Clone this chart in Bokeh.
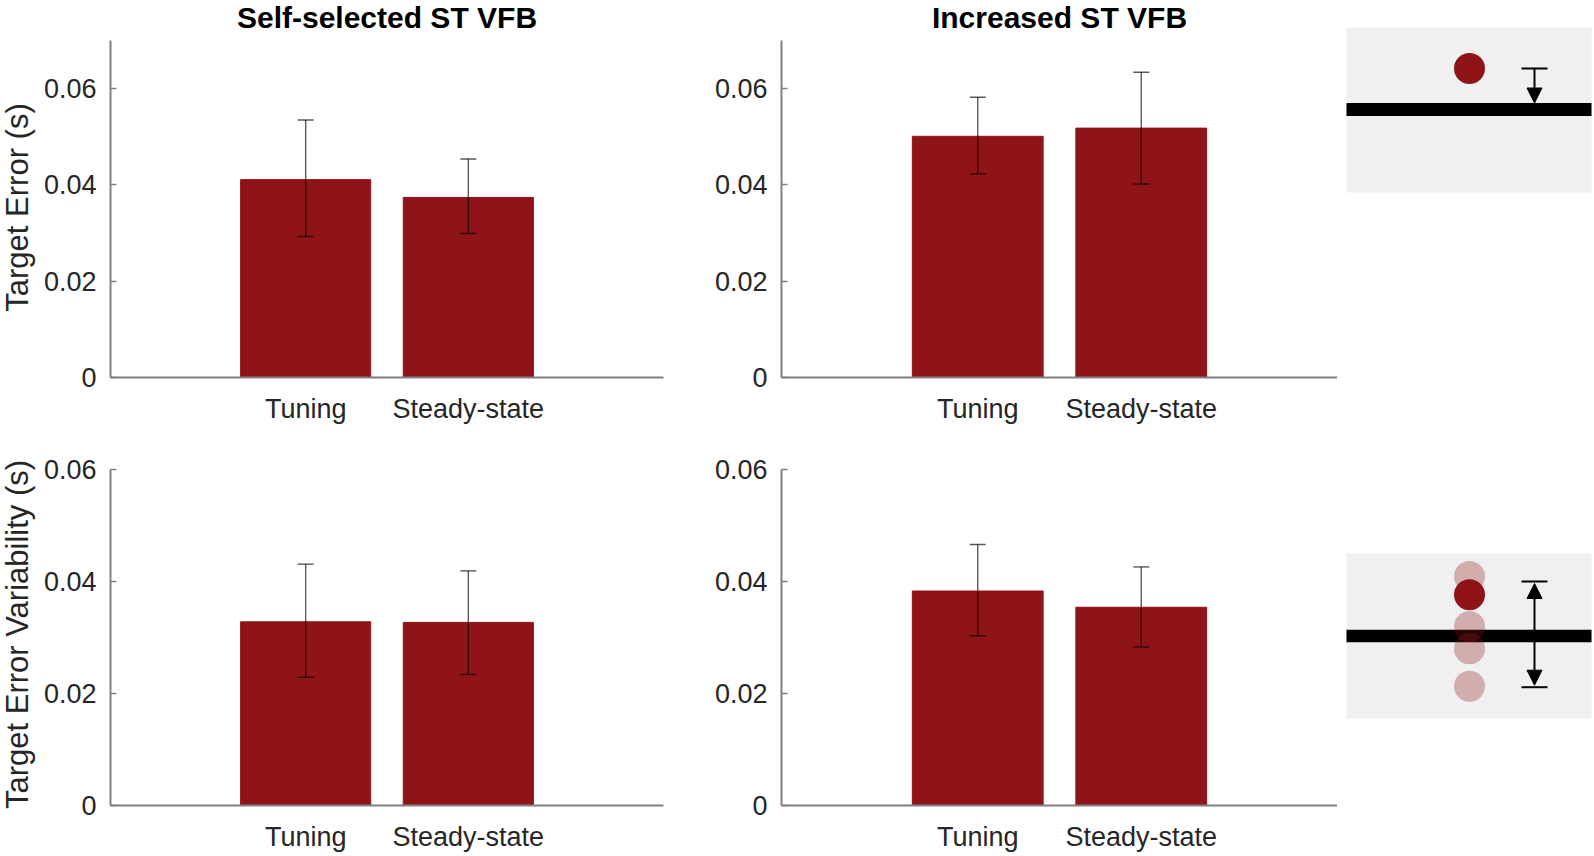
import math
from bokeh.plotting import figure
from bokeh.models import (Range1d, FixedTicker, CustomJSTickFormatter, Whisker, ColumnDataSource,
                          Arrow, NormalHead, TeeHead)
from bokeh.core.properties import value
from bokeh.layouts import row, column
from bokeh.embed import file_html
from bokeh.resources import INLINE

# ---------------- data ----------------
categories = ["Tuning", "Steady-state"]
cat_pos = [1, 2]

# Target error (s): mean and error-bar ends
self_err_mean = [0.0411, 0.0374]
self_err_upper = [0.0535, 0.0454]
self_err_lower = [0.0293, 0.0299]
inc_err_mean = [0.0501, 0.0518]
inc_err_upper = [0.0582, 0.0634]
inc_err_lower = [0.0423, 0.0402]

# Target error variability (s)
self_var_mean = [0.0328, 0.0327]
self_var_upper = [0.0431, 0.0419]
self_var_lower = [0.0229, 0.0234]
inc_var_mean = [0.0383, 0.0354]
inc_var_upper = [0.0466, 0.0426]
inc_var_lower = [0.0303, 0.0283]

titles = ["Self-selected ST VFB", "Increased ST VFB"]
ylabels = ["Target Error (s)", "Target Error Variability (s)"]
y_ticks = [0, 0.02, 0.04, 0.06]
y_max = [0.07, 0.06]
x_lim = (-0.2, 3.2)

# schematic icons (icon-local units, box 245 x 165)
icon_w, icon_h = 245, 165
icon_line_y = [82, 82.5]
icon_line_th = [13, 12.5]
icon1_dot_y = [41]
icon2_faded_y = [23, 73, 95.3, 132.7]
icon2_dot_y = [41.3]
icon_dot_x = 123
icon_arrow_x = 188
icon1_arrow = (41, 75.5)
icon2_arrow = (28, 133.7)

RED = "#8E1418"
AXIS = "#808080"
TXT = "#262626"
FONT = "Liberation Sans"

# layout (pixels)
TOP_H, BOT_H = 430, 424
TOP_AXIS_TOP = 40      # px from canvas top where the top-row y axis ends (y_max)
TOP_FRAME_H = 377      # top-row frame spans whole canvas top down to the x axis
TITLE_MID = 16.5       # title centre, px from top
LABEL_W = 40


def bar_panel(mean, upper, lower, width, height, bl, br, bt, bb, ytop, title=None):
    if title:
        # frame reaches the canvas top; y axis line limited to [0, ytop]
        y_end = ytop * TOP_FRAME_H / (TOP_FRAME_H - TOP_AXIS_TOP)
    else:
        y_end = ytop
    p = figure(width=width, height=height, x_range=Range1d(*x_lim), y_range=Range1d(0, y_end),
               output_backend="svg", toolbar_location=None, title=None,
               min_border_left=bl, min_border_right=br, min_border_top=bt, min_border_bottom=bb)
    p.outline_line_color = None
    p.grid.visible = False
    src = ColumnDataSource(dict(x=cat_pos, top=mean, upper=upper, lower=lower))
    p.vbar(x="x", top="top", width=0.8, source=src, fill_color=RED, line_color=RED)
    wk = Whisker(base="x", upper="upper", lower="lower", source=src,
                 line_color="black", line_alpha=0.65, line_width=1.4,
                 upper_head=TeeHead(size=16, line_color="black", line_alpha=0.65, line_width=1.4),
                 lower_head=TeeHead(size=16, line_color="black", line_alpha=0.65, line_width=1.4))
    wk.level = "overlay"
    p.add_layout(wk)

    p.yaxis.ticker = FixedTicker(ticks=y_ticks)
    p.yaxis.formatter = CustomJSTickFormatter(code="return tick == 0 ? '0' : tick.toFixed(2);")
    p.yaxis.bounds = (0, ytop)
    p.xaxis.ticker = FixedTicker(ticks=cat_pos)
    p.xaxis.formatter = CustomJSTickFormatter(args=dict(labels=categories),
                                              code="return labels[Math.round(tick) - 1] || '';")
    for ax in (p.xaxis[0], p.yaxis[0]):
        ax.axis_line_color = AXIS
        ax.axis_line_width = 2
        ax.major_tick_line_color = AXIS
        ax.major_tick_line_width = 1.5
        ax.major_tick_out = 0
        ax.minor_tick_line_color = None
        ax.major_label_text_font = FONT
        ax.major_label_text_color = TXT
    p.yaxis.major_tick_in = 6
    p.xaxis.major_tick_in = 0
    p.yaxis.major_label_text_font_size = "27px"
    p.xaxis.major_label_text_font_size = "27px"
    p.yaxis.major_label_standoff = 14
    p.xaxis.major_label_standoff = 16

    if title:
        ty = ytop * (TOP_FRAME_H - TITLE_MID) / (TOP_FRAME_H - TOP_AXIS_TOP)
        p.text(x=[sum(x_lim) / 2], y=[ty], text=[title], text_font=value(FONT), text_font_size="30px",
               text_font_style="bold", text_color="black", text_align="center",
               text_baseline="middle")
    return p


def label_panel(height, y_top, y_center, text):
    p = figure(width=LABEL_W, height=height, x_range=Range1d(0, LABEL_W),
               y_range=Range1d(y_top + height, y_top),
               output_backend="svg", toolbar_location=None, title=None,
               x_axis_location=None, y_axis_location=None, min_border=0, frame_align=False)
    p.outline_line_color = None
    p.grid.visible = False
    p.text(x=[16.5], y=[y_center], text=[text], angle=math.pi / 2, text_font=value(FONT),
           text_font_size="31px", text_color=TXT, text_align="center", text_baseline="middle")
    return p


def icon_panel(width, height, xr, yr, line_y, line_th, faded_y, dot_y, arrow, double):
    p = figure(width=width, height=height, x_range=Range1d(*xr), y_range=Range1d(*yr),
               output_backend="svg", toolbar_location=None, title=None,
               x_axis_location=None, y_axis_location=None, min_border=0, frame_align=False)
    p.outline_line_color = None
    p.grid.visible = False
    p.quad(left=[0], right=[icon_w], top=[0], bottom=[icon_h], fill_color="#F0F0F0", line_color=None)
    p.quad(left=[0], right=[icon_w], top=[line_y - line_th / 2], bottom=[line_y + line_th / 2],
           fill_color="black", line_color=None)
    if faded_y:
        p.scatter(x=[icon_dot_x] * len(faded_y), y=faded_y, size=31, fill_color=RED,
                  fill_alpha=0.3, line_color=None)
    p.scatter(x=[icon_dot_x] * len(dot_y), y=dot_y, size=31, fill_color=RED, line_color=None)
    y0, y1 = arrow
    head = dict(size=15, fill_color="black", line_color="black")
    p.segment(x0=[icon_arrow_x - 13], x1=[icon_arrow_x + 13], y0=[y0], y1=[y0], line_color="black", line_width=2)
    if double:
        p.segment(x0=[icon_arrow_x - 13], x1=[icon_arrow_x + 13], y0=[y1], y1=[y1], line_color="black", line_width=2)
        p.add_layout(Arrow(x_start=icon_arrow_x, y_start=(y0 + y1) / 2, x_end=icon_arrow_x, y_end=y0 + 2,
                           line_width=2, end=NormalHead(**head)))
        p.add_layout(Arrow(x_start=icon_arrow_x, y_start=(y0 + y1) / 2, x_end=icon_arrow_x, y_end=y1 - 2,
                           line_width=2, end=NormalHead(**head)))
    else:
        p.add_layout(Arrow(x_start=icon_arrow_x, y_start=y0, x_end=icon_arrow_x, y_end=y1,
                           line_width=2, end=NormalHead(**head)))
    return p


l1 = label_panel(TOP_H, 0, 207, ylabels[0])
l2 = label_panel(BOT_H, TOP_H, 634, ylabels[1])

a = bar_panel(self_err_mean, self_err_upper, self_err_lower, 633, TOP_H, 67, 10, 0, 53, y_max[0],
              title=titles[0])
b = bar_panel(inc_err_mean, inc_err_upper, inc_err_lower, 664, TOP_H, 108, 0, 0, 53, y_max[0],
              title=titles[1])
c = bar_panel(self_var_mean, self_var_upper, self_var_lower, 633, BOT_H, 67, 10, 39, 48, y_max[1])
d = bar_panel(inc_var_mean, inc_var_upper, inc_var_lower, 664, BOT_H, 108, 0, 39, 48, y_max[1])

i1 = icon_panel(255, TOP_H, (-9, 246), (403, -27), icon_line_y[0], icon_line_th[0], [], icon1_dot_y,
                icon1_arrow, False)
i2 = icon_panel(255, BOT_H, (-9, 246), (301, -123), icon_line_y[1], icon_line_th[1], icon2_faded_y,
                icon2_dot_y, icon2_arrow, True)

layout = column(row(l1, a, b, i1), row(l2, c, d, i2))

with open("out.html", "w") as f:
    f.write(file_html(layout, INLINE))
